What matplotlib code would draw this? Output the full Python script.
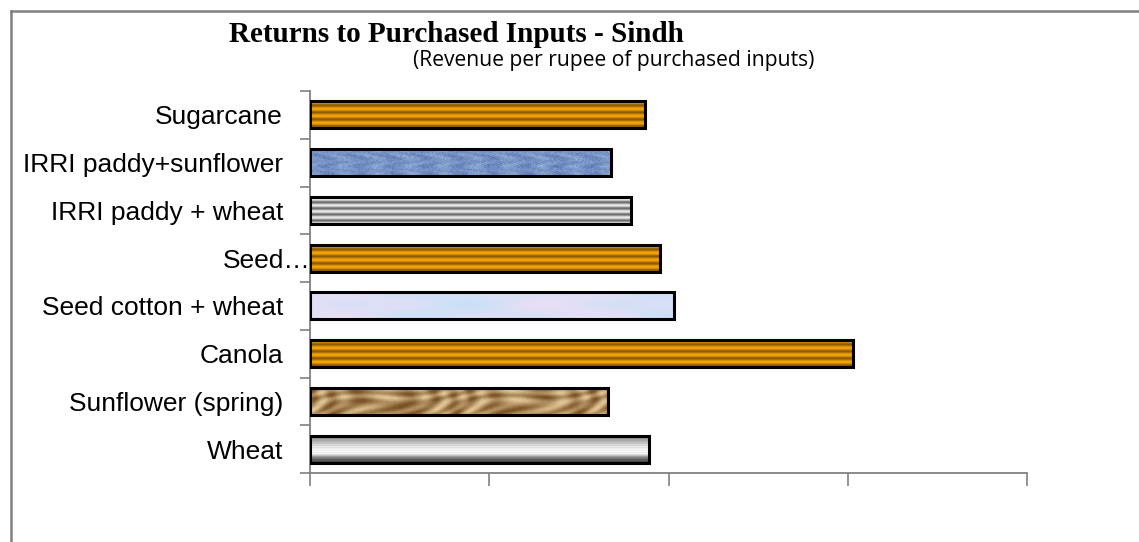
import matplotlib.pyplot as plt
import numpy as np
from matplotlib.lines import Line2D
from matplotlib.transforms import ScaledTranslation

# crops, bottom to top
crops = ["Wheat", "Sunflower (spring)", "Canola", "Seed cotton + wheat",
         "Seed\u2026", "IRRI paddy + wheat", "IRRI paddy+sunflower", "Sugarcane"]
returns = [1.89, 1.66, 3.03, 2.03, 1.95, 1.79, 1.68, 1.87]
x_ticks = [0, 1, 2, 3, 4]


def hash_noise(h, w, sx=1.0, sy=1.0, seed=0.0):
    # deterministic pseudo-noise for fabric-like textures
    yy, xx = np.mgrid[0:h, 0:w]
    v = np.sin((xx * sx) * 12.9898 + (yy * sy) * 78.233 + seed) * 43758.5453
    return v - np.floor(v)


def blend(c0, c1, t):
    c0 = np.array(c0) / 255.0
    c1 = np.array(c1) / 255.0
    return c0 + (c1 - c0) * t[..., None]


def orange_stripes(h=60, w=400):
    y = np.arange(h)[:, None] * np.ones((1, w))
    t = 0.5 + 0.5 * np.cos(2 * np.pi * (y + 4) / 15.0)
    return blend((245, 165, 10), (140, 88, 0), t ** 1.3)


def gray_stripes(h=60, w=400):
    y = np.arange(h)[:, None] * np.ones((1, w))
    t = 0.5 + 0.5 * np.cos(2 * np.pi * y / 13.0)
    return blend((235, 235, 235), (105, 105, 105), t ** 1.2)


def denim(h=60, w=400):
    n1 = hash_noise(h, w)
    n2 = hash_noise(h, w, seed=3.1)
    yy, xx = np.mgrid[0:h, 0:w]
    weave = 0.5 + 0.5 * np.sin(xx * 0.9) * np.sin(yy * 1.3)
    blot = 0.5 + 0.5 * np.sin(xx / 7.0 + np.sin(yy / 5.0) * 2) * np.cos(yy / 6.0)
    t = np.clip(0.35 * n1 + 0.2 * n2 + 0.2 * weave + 0.25 * blot, 0, 1)
    return blend((45, 75, 145), (195, 220, 250), t)


def pastel(h=60, w=400):
    yy, xx = np.mgrid[0:h, 0:w]
    t = 0.5 + 0.25 * np.sin(xx / 23.0) * np.cos(yy / 9.0) + 0.25 * np.sin(xx / 41.0 + 1.0)
    base = blend((200, 225, 248), (235, 222, 245), t)
    return np.clip(base, 0, 1)


def sand(h=60, w=400):
    yy, xx = np.mgrid[0:h, 0:w]
    streak = (np.sin((xx + yy * 1.3) / 9.0 + np.sin(xx / 31.0) * 3)
              * np.sin((xx - yy * 0.4) / 17.0 + np.cos(yy / 11.0) * 2))
    n = hash_noise(h, w, seed=1.7)
    t = np.clip(0.5 + 0.45 * streak + 0.15 * (n - 0.5), 0, 1)
    return blend((232, 205, 155), (115, 75, 30), t)


def metal(h=60, w=400):
    y = np.linspace(0, 1, h)
    prof = np.interp(y, [0, 0.12, 0.35, 0.55, 0.68, 0.8, 0.9, 1.0],
                     [0.15, 0.45, 0.8, 1.0, 0.95, 0.35, 0.1, 0.0])
    ripple = 0.08 * np.cos(2 * np.pi * y * 12)
    t = np.clip(prof + ripple, 0, 1)[:, None] * np.ones((1, w))
    return blend((70, 70, 70), (250, 250, 250), t)


textures = [metal, sand, orange_stripes, pastel, orange_stripes,
            gray_stripes, denim, orange_stripes]

fig = plt.figure(figsize=(11.39, 5.42), dpi=100)
ax = fig.add_axes([310 / 1139, 69 / 542, 717 / 1139, 382 / 542])

ypos = np.arange(len(crops))
bars = ax.barh(ypos, returns, height=0.57, facecolor='none',
               edgecolor='black', linewidth=2.2, zorder=3)

for bar, tex in zip(bars, textures):
    x0, y0 = bar.get_x(), bar.get_y()
    im = ax.imshow(tex(), extent=(x0, x0 + bar.get_width(), y0, y0 + bar.get_height()),
                   aspect='auto', interpolation='bilinear', zorder=2)
    im.set_clip_path(bar)

ax.set_xlim(0, 4)
ax.set_ylim(-0.5, len(crops) - 0.5)

ax.set_xticks(x_ticks)
ax.set_xticklabels([])
ax.tick_params(axis='x', length=9, width=1.2, color='#808080', direction='out')

ax.set_yticks(ypos)
ax.set_yticklabels(crops, fontsize=19, family='Liberation Sans')
ax.set_yticks(np.arange(-0.5, len(crops)), minor=True)
ax.tick_params(axis='y', which='major', length=0, pad=19.5)
ax.tick_params(axis='y', which='minor', length=7, width=1.2, color='#808080')

# the truncated label sits right against the axis
for lab in ax.get_yticklabels():
    if lab.get_text() == "Seed\u2026":
        lab.set_transform(lab.get_transform() + ScaledTranslation(28 / 100, 0, fig.dpi_scale_trans))

for side in ['top', 'right']:
    ax.spines[side].set_visible(False)
for side in ['left', 'bottom']:
    ax.spines[side].set_color('#808080')
    ax.spines[side].set_linewidth(1.3)

fig.text(229 / 1139, 1 - 42 / 542, "Returns to Purchased Inputs - Sindh",
         family='Liberation Serif', fontweight='bold', fontsize=21, va='baseline')
fig.text(413 / 1139, 1 - 66 / 542, "(Revenue per rupee of purchased inputs)",
         family='Open Sans', fontsize=15.2, va='baseline')

# chart-area frame
fig.add_artist(Line2D([11 / 1139, 1], [1 - 11 / 542] * 2, transform=fig.transFigure,
                      color='#808080', lw=1.8))
fig.add_artist(Line2D([11 / 1139] * 2, [0, 1 - 11 / 542], transform=fig.transFigure,
                      color='#808080', lw=1.8))

fig.savefig("out.png", dpi=100)
